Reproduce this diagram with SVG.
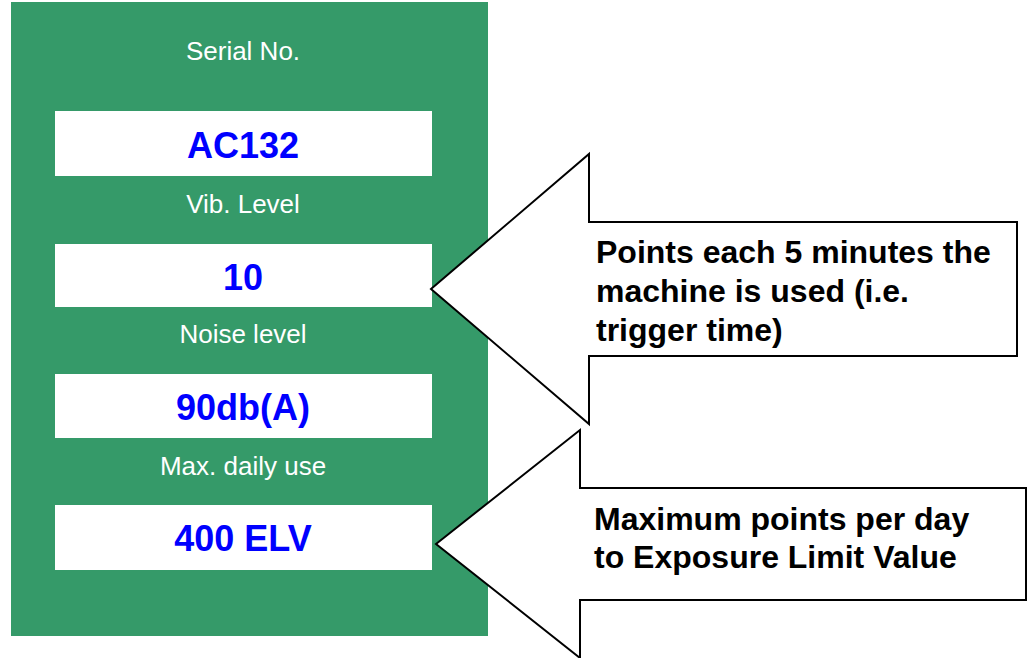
<svg xmlns="http://www.w3.org/2000/svg" width="1034" height="658" viewBox="0 0 1034 658">
<style>
.lbl{font-family:"Liberation Sans",Arial,sans-serif;font-size:26px;fill:#ffffff;text-anchor:middle}
.val{font-family:"Liberation Sans",Arial,sans-serif;font-size:36px;font-weight:bold;fill:#0000ff;text-anchor:middle}
.box{fill:#ffffff}
.arrow{fill:#ffffff;stroke:#000000;stroke-width:2;stroke-linejoin:miter}
.note{font-family:"Liberation Sans",Arial,sans-serif;font-size:32px;font-weight:bold;fill:#000000}
</style>
<rect width="1034" height="658" fill="#ffffff"/>
<g id="panel">
<rect x="11" y="2" width="477" height="634" fill="#359a69"/>
</g>
<g id="serial">
<text class="lbl" x="243" y="60">Serial No.</text>
<rect class="box" x="55" y="111" width="377" height="65"/>
<text class="val" x="243" y="158">AC132</text>
</g>
<g id="vib">
<text class="lbl" x="243" y="213">Vib. Level</text>
<rect class="box" x="55" y="244" width="377" height="63"/>
<text class="val" x="243" y="290">10</text>
</g>
<g id="noise">
<text class="lbl" x="243" y="343">Noise level</text>
<rect class="box" x="55" y="374" width="377" height="64"/>
<text class="val" x="243" y="420">90db(A)</text>
</g>
<g id="maxuse">
<text class="lbl" x="243" y="475">Max. daily use</text>
<rect class="box" x="55" y="505" width="377" height="65"/>
<text class="val" x="243" y="551">400 ELV</text>
</g>
<g id="connectors">
<g id="arrow1">
<polygon class="arrow" points="431,289 589,154 589,222 1017,222 1017,356 589,356 589,424"/>
<text class="note" x="596" y="263">Points each 5 minutes the</text>
<text class="note" x="596" y="302">machine is used (i.e.</text>
<text class="note" x="596" y="341">trigger time)</text>
</g>
<g id="arrow2">
<polygon class="arrow" points="436,544 580,430 580,488 1026,488 1026,600 580,600 580,658"/>
<text class="note" x="594" y="530">Maximum points per day</text>
<text class="note" x="594" y="568">to Exposure Limit Value</text>
</g>
</g>
</svg>
